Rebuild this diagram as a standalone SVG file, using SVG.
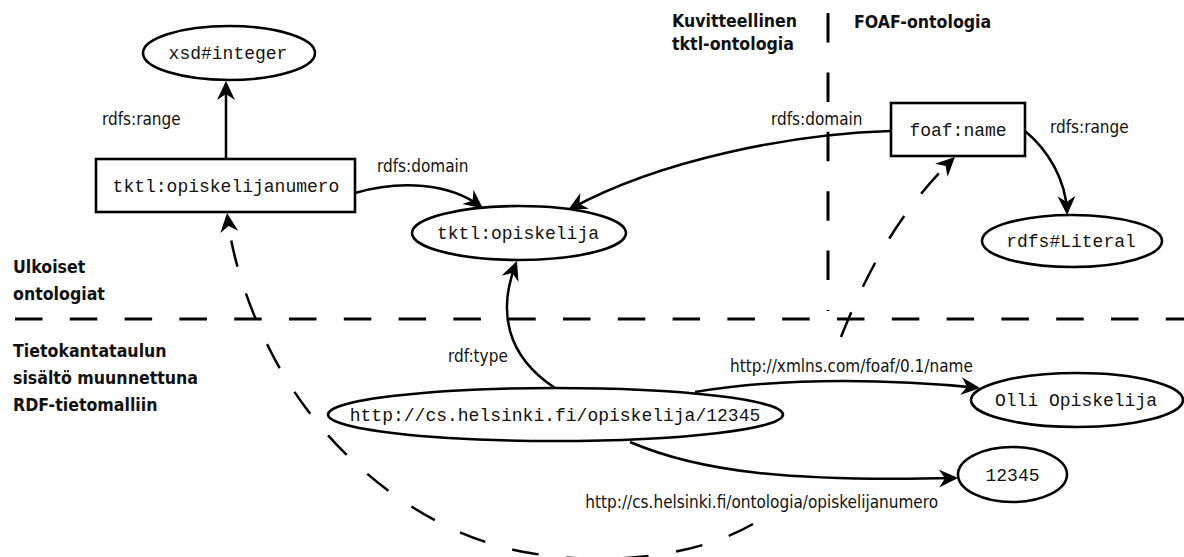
<svg xmlns="http://www.w3.org/2000/svg" width="1184" height="557" viewBox="0 0 1184 557">
  <defs>
    <style>
      .shape { fill: #fff; stroke: #000; stroke-width: 2.6; }
      .mono { font-family: "Liberation Mono", "Courier New", monospace; font-size: 18px; fill: #111; text-anchor: middle; }
      .lbl { font-family: "DejaVu Sans Condensed", "DejaVu Sans", sans-serif; font-stretch: condensed; font-size: 17px; fill: #111; }
      .head { font-family: "DejaVu Sans Condensed", "DejaVu Sans", sans-serif; font-stretch: condensed; font-weight: bold; font-size: 17.6px; fill: #111; }
      .edge { fill: none; stroke: #000; stroke-width: 2.5; marker-end: url(#arrow); }
      .dashed { stroke-dasharray: 27 28; }
      .sep { fill: none; stroke: #000; stroke-width: 3; }
    </style>
    <marker id="arrow" markerUnits="userSpaceOnUse" markerWidth="24" markerHeight="22" viewBox="-20 -11 24 22" refX="-3" refY="0" orient="auto">
      <path d="M0,0 L-19,-9 L-13,0 L-19,9 Z" fill="#000"/>
    </marker>
  </defs>

  <rect width="1184" height="557" fill="#fff"/>

  <!-- area separators -->
  <g id="separators">
    <line class="sep" x1="828" y1="13" x2="828" y2="311" stroke-dasharray="29.5 29.9"/>
    <line class="sep" x1="15" y1="319" x2="1184" y2="319" stroke-dasharray="27.5 27.3"/>
  </g>

  <!-- area titles -->
  <g id="titles">
    <text class="head" x="672" y="27">Kuvitteellinen</text>
    <text class="head" x="672" y="50">tktl-ontologia</text>
    <text class="head" x="854" y="28">FOAF-ontologia</text>
    <text class="head" x="13" y="273">Ulkoiset</text>
    <text class="head" x="13" y="300">ontologiat</text>
    <text class="head" x="13" y="357">Tietokantataulun</text>
    <text class="head" x="13" y="384">sisältö muunnettuna</text>
    <text class="head" x="13" y="411">RDF-tietomalliin</text>
  </g>

  <!-- connectors -->
  <g id="connectors">
    <path class="edge" d="M226,158 L226,84"/>
    <path class="edge" d="M355,193 C400,180 450,183 480.6,206.7"/>
    <path class="edge" d="M891,131 C790,134 660,160 570.6,208.6"/>
    <path class="edge" d="M1025,131 C1048,150 1066,180 1067,212"/>
    <path class="edge" d="M555,388 C505,355 498,310 515.9,263.8"/>
    <path class="edge" d="M695,392 C790,376 900,380 977,387.7"/>
    <path class="edge" d="M630,442 C700,472 790,482 955,478"/>
    <path class="edge dashed" d="M841,337 C860,290 890,220 952.8,159.1"/>
    <path class="edge dashed" d="M753,524 C690,560 600,565 530,553 C420,535 320,450 270,350 C245,300 232,255 227.4,216"/>

    <text class="lbl" x="102" y="125">rdfs:range</text>
    <text class="lbl" x="377" y="172">rdfs:domain</text>
    <text class="lbl" x="771" y="125">rdfs:domain</text>
    <text class="lbl" x="1050" y="133">rdfs:range</text>
    <text class="lbl" x="448" y="362">rdf:type</text>
    <text class="lbl" x="730" y="372">http://xmlns.com/foaf/0.1/name</text>
    <text class="lbl" x="938" y="508" text-anchor="end">http://cs.helsinki.fi/ontologia/opiskelijanumero</text>
  </g>

  <!-- nodes -->
  <g id="xsd-integer">
    <ellipse class="shape" cx="229" cy="53" rx="86" ry="27"/>
    <text class="mono" x="228" y="59">xsd#integer</text>
  </g>
  <g id="tktl-opiskelijanumero">
    <rect class="shape" x="96" y="159" width="259" height="53"/>
    <text class="mono" x="226" y="192">tktl:opiskelijanumero</text>
  </g>
  <g id="tktl-opiskelija">
    <ellipse class="shape" cx="519" cy="233" rx="107" ry="27"/>
    <text class="mono" x="518" y="239">tktl:opiskelija</text>
  </g>
  <g id="foaf-name">
    <rect class="shape" x="891" y="103" width="134" height="53"/>
    <text class="mono" x="958" y="136">foaf:name</text>
  </g>
  <g id="rdfs-literal">
    <ellipse class="shape" cx="1072" cy="241" rx="90" ry="26"/>
    <text class="mono" x="1071" y="247">rdfs#Literal</text>
  </g>
  <g id="opiskelija-12345">
    <ellipse class="shape" cx="555.5" cy="414.5" rx="227.5" ry="26.5"/>
    <text class="mono" x="555" y="421">http://cs.helsinki.fi/opiskelija/12345</text>
  </g>
  <g id="olli-opiskelija">
    <ellipse class="shape" cx="1077" cy="400" rx="106" ry="27"/>
    <text class="mono" x="1076" y="406">Olli Opiskelija</text>
  </g>
  <g id="number-12345">
    <ellipse class="shape" cx="1012.5" cy="474.5" rx="54.5" ry="27.5"/>
    <text class="mono" x="1012.5" y="481">12345</text>
  </g>
</svg>
